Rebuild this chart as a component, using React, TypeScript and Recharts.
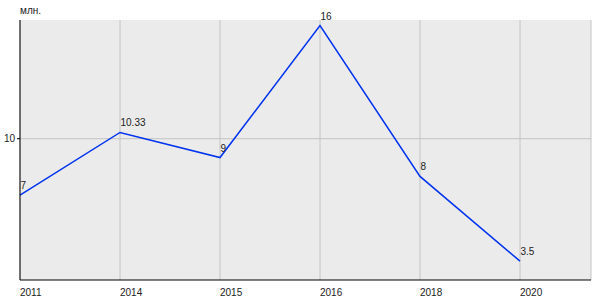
import { CartesianGrid, Line, LineChart, XAxis, YAxis } from 'recharts'

const years = ['2011', '2014', '2015', '2016', '2018', '2020']
const values = [7, 10.33, 9, 16, 8, 3.5]
const yTicks = [10]
const unit = 'млн.'

const data = years.map((year, i) => ({ year, value: values[i] }))

const FONT = 'Liberation Sans, Arial, sans-serif'

function XTick({ x, y, payload }: any) {
  return (
    <text x={x} y={y + 8} textAnchor="start" fontSize={10} fontFamily={FONT} fill="#222">
      {payload.value}
    </text>
  )
}

function PointLabel({ x, y, value }: any) {
  return (
    <text x={x + 0.5} y={y - 6} textAnchor="start" fontSize={10} fontFamily={FONT} fill="#222">
      {value}
    </text>
  )
}

function UnitLabel({ viewBox }: any) {
  return (
    <text x={viewBox.x + viewBox.width} y={viewBox.y - 6} textAnchor="start" fontSize={10} fontFamily={FONT} fill="#222">
      {unit}
    </text>
  )
}

export default function App() {
  return (
    <div style={{ position: 'absolute', left: 0, top: 0, width: 600, height: 300, background: '#fff' }}>
      <LineChart width={600} height={300} data={data} margin={{ top: 20, right: 9, bottom: 0, left: 0 }}>
        <CartesianGrid fill="#ebebeb" stroke="#c4c4c4" horizontalValues={yTicks} />
        <XAxis
          dataKey="year"
          height={20}
          padding={{ left: 0, right: 71 }}
          axisLine={{ stroke: '#000' }}
          tickLine={false}
          tick={<XTick />}
          interval={0}
        />
        <YAxis
          width={20}
          domain={[2.5, 16.3]}
          ticks={yTicks}
          axisLine={{ stroke: '#000' }}
          tickSize={3}
          tickLine={{ stroke: '#000' }}
          tick={{ fontSize: 10, fontFamily: FONT, fill: '#222' }}
          label={<UnitLabel />}
        />
        <Line
          dataKey="value"
          stroke="#0033ee"
          strokeWidth={1.5}
          dot={false}
          isAnimationActive={false}
          label={<PointLabel />}
        />
      </LineChart>
    </div>
  )
}
